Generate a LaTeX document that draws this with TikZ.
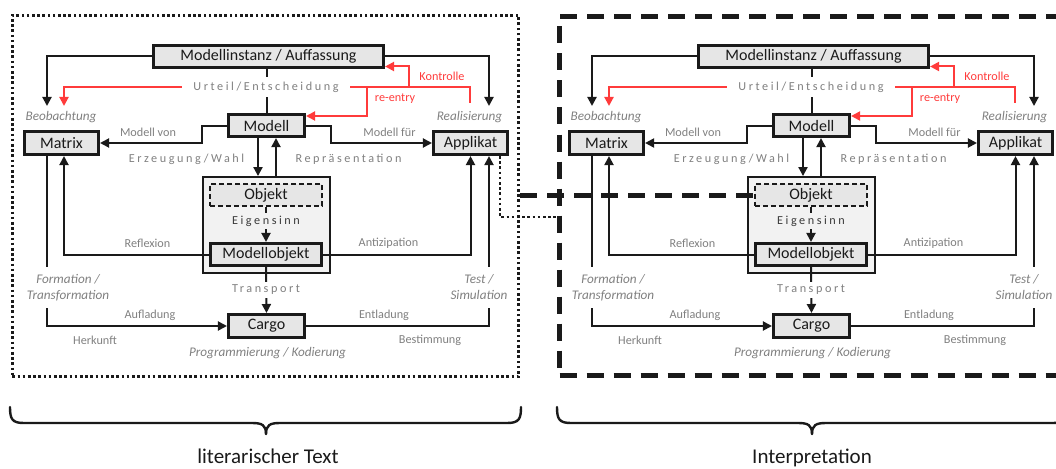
\documentclass[tikz,border=0pt]{standalone}
\usepackage{fontspec}
\setmainfont{Carlito}
\usetikzlibrary{arrows.meta}
\definecolor{boxgray}{HTML}{E6E6E6}
\definecolor{contgray}{HTML}{F2F2F2}
\definecolor{labgray}{HTML}{808080}
\definecolor{redc}{HTML}{FF3B3B}
\definecolor{ink}{HTML}{1A1A1A}
\definecolor{eigen}{HTML}{3A3A3A}
\tikzset{
 box/.style={draw=ink, line width=2.6pt, fill=boxgray, font=\fontsize{16}{19}\selectfont, inner sep=0pt, text=ink},
 conn/.style={draw=ink, line width=2pt},
 arr/.style={conn, -{Triangle[length=9pt,width=9pt]}},
 redarr/.style={draw=redc, line width=2pt, -{Triangle[length=9pt,width=9pt]}},
 lab/.style={text=labgray, font=\fontsize{12.2}{14}\selectfont, inner sep=1pt},
 ilab/.style={text=labgray, font=\fontsize{13.2}{16}\selectfont\itshape, inner sep=1pt},
 spaced/.style={text=labgray, font=\fontsize{12.2}{14}\selectfont\addfontfeature{LetterSpace=21}, inner sep=1pt},
 redlab/.style={text=redc, font=\fontsize{12.2}{14}\selectfont, inner sep=1pt},
 dotframe/.style={draw=ink, line width=2.6pt, dash pattern=on 2.6pt off 2.6pt},
 bigdash/.style={draw=ink, line width=5pt, dash pattern=on 17pt off 10pt},
 bracestyle/.style={draw=ink, line width=2.4pt, line cap=round},
 bigtext/.style={font=\fontsize{21}{25}\selectfont, text=ink, inner sep=0pt, anchor=base},
}
\newcommand\drawpanel[2]{%
\begin{scope}[xshift=#2pt]
\node[box, minimum width=230.5pt, minimum height=22.5pt] (#1mi) at (268.5,56.5) {Modellinstanz / Auffassung};
\node[box, minimum width=76.5pt, minimum height=22.5pt] (#1modell) at (266.5,125.5) {Modell};
\node[box, minimum width=74.5pt, minimum height=23.5pt] (#1matrix) at (61.5,143) {Matrix};
\node[box, minimum width=74.5pt, minimum height=23.5pt] (#1applikat) at (470.5,143) {Applikat};
\node[draw=ink, line width=2.4pt, fill=contgray, minimum width=126.5pt, minimum height=95.5pt, inner sep=0pt] (#1cont) at (266.5,225) {};
\node[box, line width=1.8pt, dash pattern=on 5pt off 3pt, minimum width=112pt, minimum height=22pt] (#1objekt) at (266,195) {Objekt};
\node[box, minimum width=111.5pt, minimum height=22.5pt] (#1mobj) at (266,254.5) {Modellobjekt};
\node[box, minimum width=76.5pt, minimum height=23.4pt] (#1cargo) at (266.5,326) {Cargo};
\node[ilab] (#1beo) at (61,117) {Beobachtung};
\node[ilab] (#1real) at (469.5,117) {Realisierung};
\node[lab] (#1mvon) at (148,132) {Modell von};
\node[lab] (#1mfuer) at (389.5,132) {Modell für};
\node[spaced] (#1erz) at (186.5,159) {Erzeugung/Wahl};
\node[spaced] (#1rep) at (348.5,159) {Repräsentation};
\node[redlab] (#1kontr) at (442,76) {Kontrolle};
\node[redlab] (#1reentry) at (395,99) {re-entry};
\node[lab] (#1refl) at (147.5,243) {Reflexion};
\node[lab] (#1antiz) at (388.5,243) {Antizipation};
\node[lab] (#1aufl) at (150,315) {Aufladung};
\node[lab] (#1herk) at (95,340) {Herkunft};
\node[lab] (#1entl) at (384,315) {Entladung};
\node[lab] (#1best) at (430,340) {Bestimmung};
\node[ilab] (#1prog) at (267.5,353) {Programmierung / Kodierung};
\coordinate (#1cBeo) at (47,106);
\coordinate (#1cReal) at (489,106);
\coordinate (#1rs) at (470,103);
\coordinate (#1rBeo) at (64,106);
\coordinate (#1jk) at (409,87);
\coordinate (#1jr) at (367,87);
\coordinate (#1uc) at (266,87);
% black connectors
\draw[conn] (#1mi.south -| #1modell.north) -- (#1modell.north);
\draw[arr] (#1mi.west) -| (#1cBeo);
\draw[arr] (#1mi.east) -| (#1cReal);
\draw[arr] (#1modell.west) -- ++(-25,0) |- (#1matrix.east);
\draw[arr] (#1modell.east) -- ++(25,0) |- (#1applikat.west);
\path ([xshift=-8.5pt]#1modell.south) coordinate (#1dn) ([xshift=9.5pt]#1modell.south) coordinate (#1up);
\draw[arr] (#1dn) -- (#1dn |- #1cont.north);
\draw[arr] (#1up |- #1cont.north) -- (#1up);
\draw[arr] (#1objekt.south) -- (#1mobj.north);
\draw[arr] (#1mobj.south) -- (#1cargo.north);
\draw[arr] (#1mobj.west) -| ([xshift=2.5pt]#1matrix.south);
\draw[arr] (#1mobj.east) -| (#1applikat.south);
\draw[arr] ([xshift=-14.5pt]#1matrix.south) |- (#1cargo.west);
\draw[arr] (#1cargo.east) -| ([xshift=18.5pt]#1applikat.south);
% red connectors
\draw[redarr] (#1rs) |- (#1uc) -| (#1rBeo);
\draw[redarr] (#1jk) |- ([yshift=-10pt]#1mi.east);
\draw[redarr] (#1jr) |- ([yshift=9.5pt]#1modell.east);
% labels that interrupt lines
\node[spaced, fill=white, inner xsep=11pt, inner ysep=0pt, minimum height=20pt] (#1urteil) at (#1uc) {Urteil/Entscheidung};
\node[spaced, text=eigen, fill=contgray, inner xsep=2pt, inner ysep=0pt, minimum height=16pt] (#1eigen) at (266,221) {Eigensinn};
\node[spaced, fill=white, inner ysep=0pt, minimum height=16pt] (#1transport) at (266,290) {Transport};
\node[ilab, fill=white, align=center, inner ysep=0pt, minimum height=41pt] (#1form) at (68,287.5) {Formation /\\Transformation};
\node[ilab, fill=white, align=center, inner ysep=0pt, minimum height=41pt] (#1test) at (479,287.5) {Test /\\Simulation};
\end{scope}}
\begin{document}
\begin{tikzpicture}[x=1pt,y=-1pt]
\useasboundingbox (0,0) rectangle (1056,468);
\clip (0,0) rectangle (1056,468);
\node[dotframe, minimum width=506.4pt, minimum height=361.4pt, inner sep=0pt] (lframe) at (265.5,196) {};
\node[bigdash, minimum width=504pt, minimum height=359pt, inner sep=0pt] (rframe) at (811.5,196) {};
\drawpanel{l}{0}
\drawpanel{r}{545}
\draw[bigdash] (lframe.east |- robjekt.west) -- (robjekt.west);
\draw[dotframe] ([xshift=29.5pt]lapplikat.south) |- ([yshift=-21pt]rframe.west);
% braces
\draw[bracestyle] (10,407) .. controls (10,419) and (12,423) .. (24,423) -- (252,423) .. controls (262,423) and (266,425) .. (266,434);
\draw[bracestyle] (521,407) .. controls (521,419) and (519,423) .. (507,423) -- (280,423) .. controls (270,423) and (266,425) .. (266,434);
\draw[bracestyle] (557,407) .. controls (557,419) and (559,423) .. (571,423) -- (798,423) .. controls (808,423) and (812,425) .. (812,434);
\draw[bracestyle] (1067,407) .. controls (1067,419) and (1065,423) .. (1053,423) -- (826,423) .. controls (816,423) and (812,425) .. (812,434);
\node[bigtext] (lt) at (268,463) {literarischer Text};
\node[bigtext] (it) at (812,463) {Interpretation};
\end{tikzpicture}
\end{document}
